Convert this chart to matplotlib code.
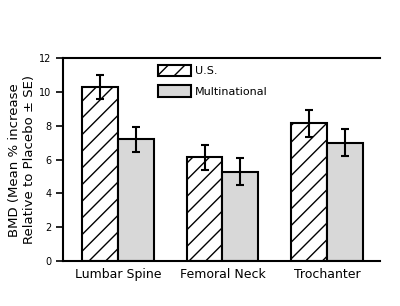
import numpy as np
import matplotlib
matplotlib.use('Agg')
import matplotlib.pyplot as plt

plt.rcParams['hatch.linewidth'] = 1.0

sites = ['Lumbar Spine', 'Femoral Neck', 'Trochanter']
us = [10.3, 6.15, 8.15]
us_err = [0.7, 0.75, 0.8]
multi = [7.2, 5.3, 7.0]
multi_err = [0.75, 0.8, 0.8]
yticks = [0, 2, 4, 6, 8, 10, 12]

x = np.arange(len(sites))
w = 0.34

fig = plt.figure(figsize=(4, 3.06), dpi=100)
ax = fig.add_axes([0.1575, 0.147, 0.7925, 0.662])

ax.bar(x - w/2, us, w, yerr=us_err, color='white', edgecolor='black', hatch='//',
       lw=1.5, capsize=3, error_kw=dict(elinewidth=1.5, capthick=1.5), label='U.S.')
ax.bar(x + w/2, multi, w, yerr=multi_err, color='#d8d8d8', edgecolor='black',
       lw=1.5, capsize=3, error_kw=dict(elinewidth=1.5, capthick=1.5), label='Multinational')

ax.set_xlim(-0.526, 2.507)
ax.set_ylim(0, 12)
ax.set_yticks(yticks)
ax.set_xticks(x)
ax.set_xticklabels(sites, fontsize=9)
ax.tick_params(axis='x', length=0, pad=5)
ax.tick_params(axis='y', labelsize=7, length=5, width=1.2)
ax.spines['right'].set_visible(False)
for s in ['left', 'top', 'bottom']:
    ax.spines[s].set_linewidth(1.5)

ax.set_ylabel('BMD (Mean % increase\nRelative to Placebo \u00b1 SE)', fontsize=9.5, labelpad=2)

ax.legend(loc='upper left', bbox_to_anchor=(0.30, 0.97), frameon=False, fontsize=8,
          handlelength=3.0, handleheight=1.2, labelspacing=0.85, handletextpad=0.35,
          borderpad=0, borderaxespad=0)

plt.savefig('out.png', dpi=100)
